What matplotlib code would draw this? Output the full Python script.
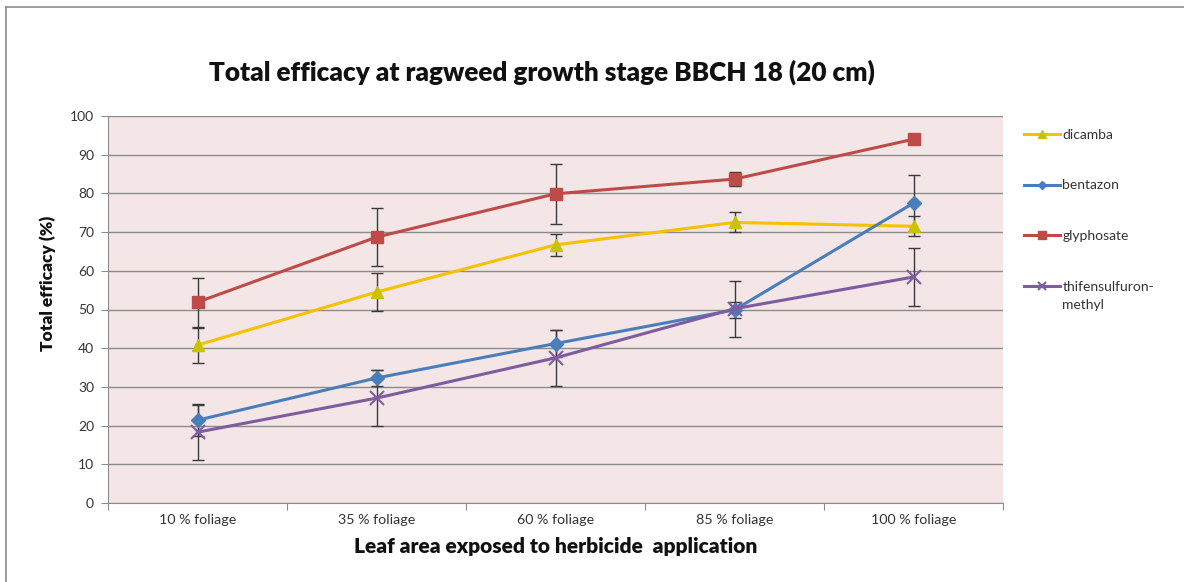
import matplotlib
matplotlib.use("Agg")
import matplotlib.pyplot as plt
from matplotlib.lines import Line2D

plt.rcParams['font.family'] = ['Lato', 'DejaVu Sans']

categories = ["10 % foliage", "35 % foliage", "60 % foliage", "85 % foliage", "100 % foliage"]

dicamba = [40.8, 54.5, 66.7, 72.5, 71.5]
dicamba_err = [4.5, 5.0, 2.8, 2.6, 2.6]

bentazon = [21.4, 32.3, 41.2, 49.9, 77.5]
bentazon_err = [4.0, 2.1, 3.6, 2.0, 7.3]

glyphosate = [51.9, 68.7, 79.9, 83.7, 94.0]
glyphosate_err = [6.3, 7.4, 7.7, 1.8, 0.0]

thifensulfuron = [18.3, 27.1, 37.5, 50.2, 58.4]
thifensulfuron_err = [7.2, 7.2, 7.3, 7.2, 7.4]

series = [
    ("dicamba", dicamba, dicamba_err, "#f5c100", "^", "#c9c200", 9),
    ("bentazon", bentazon, bentazon_err, "#4a7ebb", "D", "#4a7ebb", 7),
    ("glyphosate", glyphosate, glyphosate_err, "#be4b48", "s", "#be4b48", 9),
    ("thifensulfuron-", thifensulfuron, thifensulfuron_err, "#7e5ca0", "x", "#7e5ca0", 10),
]

W, H = 1184, 582
fig = plt.figure(figsize=(W / 100, H / 100), dpi=100)
fig.patch.set_facecolor("white")

# outer chart frame (top and left edges)
fig.add_artist(Line2D([6 / W, 6 / W], [0, 1 - 7 / H], color="#8c8c8c", lw=1.2,
                      transform=fig.transFigure))
fig.add_artist(Line2D([6 / W, 1], [1 - 7 / H, 1 - 7 / H], color="#8c8c8c", lw=1.2,
                      transform=fig.transFigure))

ax = fig.add_axes([108 / W, 1 - 503 / H, (1003 - 108) / W, (503 - 116) / H])
ax.set_facecolor("#f4e6e6")

x = list(range(len(categories)))
handles = []
for name, vals, errs, col, mk, mfc, ms in series:
    ax.errorbar(x, vals, yerr=errs, fmt="none", ecolor="#3a3a3a", elinewidth=1,
                capsize=4, capthick=1, zorder=3)
    h, = ax.plot(x, vals, color=col, lw=2.2, marker=mk, markersize=ms,
                 markerfacecolor=mfc, markeredgecolor=mfc if mk != "x" else col,
                 markeredgewidth=1.5 if mk == "x" else 1, label=name, zorder=4)
    handles.append(h)

ax.set_xlim(-0.5, len(categories) - 0.5)
ax.set_ylim(0, 100)
ax.set_yticks(range(0, 101, 10))
ax.set_xticks([i - 0.5 for i in range(len(categories) + 1)], minor=False)
ax.set_xticklabels([])
ax.set_xticks(x, minor=True)
ax.set_xticklabels(categories, minor=True)
ax.tick_params(axis="x", which="minor", length=0, pad=8, labelsize=10.3, labelcolor="#333333")
ax.tick_params(axis="x", which="major", length=5, color="#8c8c8c", direction="out")
ax.tick_params(axis="y", length=5, color="#8c8c8c", direction="out", labelsize=10,
               labelcolor="#333333", pad=5)

ax.yaxis.grid(True, color="#8c8c8c", lw=1)
ax.set_axisbelow(True)
for side in ("top", "right"):
    ax.spines[side].set_visible(False)
for side in ("left", "bottom"):
    ax.spines[side].set_color("#8c8c8c")

fig.text(542 / W, 1 - 72 / H, "Total efficacy at ragweed growth stage BBCH 18 (20 cm)",
         ha="center", va="center", fontsize=18.8, fontweight="heavy", color="#111111")
fig.text(556 / W, 1 - 546 / H, "Leaf area exposed to herbicide  application",
         ha="center", va="center", fontsize=15, fontweight="heavy", color="#111111")
fig.text(48 / W, 1 - 283 / H, "Total efficacy (%)", rotation=90,
         ha="center", va="center", fontsize=12.5, fontweight="heavy", color="#111111")

leg = fig.legend(handles=handles, loc="upper left", bbox_to_anchor=(1018 / W, 1 - 123 / H),
                 frameon=False, fontsize=10, labelspacing=2.8, handlelength=2.6,
                 handletextpad=0.2, markerscale=0.6, borderaxespad=0)
for t in leg.get_texts():
    t.set_color("#333333")

# second line of the last legend label, wrapped below its first line
fig.canvas.draw()
last = leg.get_texts()[-1].get_window_extent()
fig.text(last.x0 / W, (last.y0 - 18) / H, "methyl", ha="left", va="bottom",
         fontsize=10, color="#333333")

fig.savefig("out.png", dpi=100)
